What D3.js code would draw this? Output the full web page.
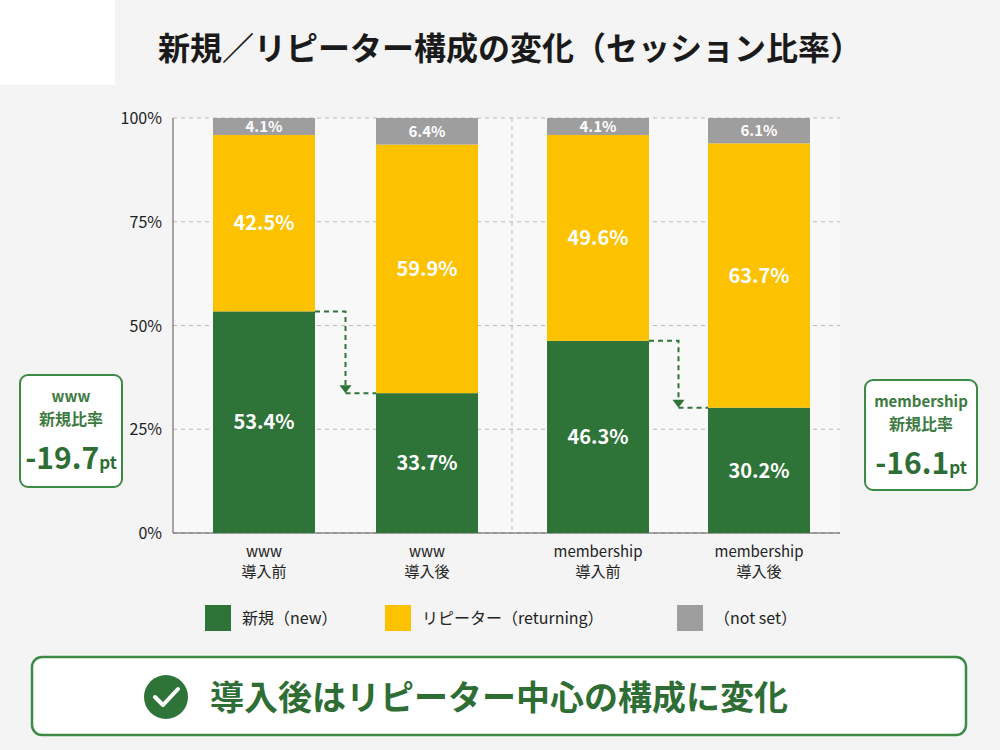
<!DOCTYPE html><html><head><meta charset="utf-8">
<script src="https://cdn.jsdelivr.net/npm/d3@7"></script>
<style>body{margin:0;background:#f4f4f4;font-family:"Noto Sans CJK JP","Noto Sans",sans-serif}</style></head><body>
<svg id="c" width="1000" height="750"></svg>
<script>
const categories=[["www","導入前"],["www","導入後"],["membership","導入前"],["membership","導入後"]];
const newVals=[53.4,33.7,46.3,30.2];
const retVals=[42.5,59.9,49.6,63.7];
const notSetVals=[4.1,6.4,4.1,6.1];
const yTicks=[0,25,50,75,100];
const seriesNames=["新規（new）","リピーター（returning）","（not set）"];
const colors=["#2e7438","#fcc200","#9e9e9e"];
const F='"Noto Sans CJK JP","Noto Sans",sans-serif';
const svg=d3.select("#c");
svg.append("rect").attr("width",115).attr("height",85).attr("fill","#fff");
svg.append("text").attr("x",510).attr("y",60).attr("text-anchor","middle").attr("font-size",32).attr("font-weight",700).attr("fill","#1a1a1a").attr("font-family",F).text("新規／リピーター構成の変化（セッション比率）");
const xp=i=>[213,376,547,708][i];const bw=102;
const y=d3.scaleLinear().domain([0,100]).range([533,118]);
svg.append("rect").attr("x",173).attr("y",118).attr("width",667).attr("height",415).attr("fill","#f8f8f8");
svg.selectAll(".g").data(yTicks).join("line").attr("x1",173).attr("x2",840).attr("y1",d=>y(d)).attr("y2",d=>y(d)).attr("stroke","#bbb").attr("stroke-dasharray","4,4");
svg.append("line").attr("x1",512).attr("x2",512).attr("y1",118).attr("y2",533).attr("stroke","#bbb").attr("stroke-dasharray","4,4");
svg.append("line").attr("x1",173).attr("x2",173).attr("y1",118).attr("y2",533).attr("stroke","#555");
svg.append("line").attr("x1",173).attr("x2",840).attr("y1",533).attr("y2",533).attr("stroke","#555");
svg.selectAll(".yt").data(yTicks).join("text").attr("x",162).attr("y",d=>y(d)+6).attr("text-anchor","end").attr("font-size",16).attr("font-family",F).attr("fill","#222").text(d=>d+"%");
const stack=[newVals,retVals,notSetVals];
categories.forEach((c,i)=>{let base=0;
 stack.forEach((s,k)=>{const v=s[i];
  svg.append("rect").attr("x",xp(i)).attr("width",bw).attr("y",y(base+v)).attr("height",y(base)-y(base+v)).attr("fill",colors[k]);
  const fs=k==2?15:20;
  svg.append("text").attr("x",xp(i)+bw/2).attr("y",(y(base)+y(base+v))/2+fs*0.36).attr("text-anchor","middle").attr("font-size",fs).attr("font-weight",700).attr("font-family",F).attr("fill","#fff").text(v.toFixed(1)+"%");
  base+=v;});
 c.forEach((t,j)=>svg.append("text").attr("x",xp(i)+bw/2).attr("y",557+j*20).attr("text-anchor","middle").attr("font-size",15).attr("font-family",F).attr("fill","#222").text(t));
});
[[0,1],[2,3]].forEach(([a,b])=>{const x0=xp(a)+bw,x1=xp(b),mx=x0+(x1-x0)*0.5;
 const y0=y(newVals[a]),y1=y(newVals[b]);
 svg.append("path").attr("d",`M${x0},${y0}H${mx}V${y1-6}`).attr("fill","none").attr("stroke","#2e7438").attr("stroke-width",2).attr("stroke-dasharray","5,4");
 svg.append("path").attr("d",`M${mx-6},${y1-8}L${mx+6},${y1-8}L${mx},${y1}Z`).attr("fill","#2e7438");
 svg.append("path").attr("d",`M${mx},${y1}H${x1}`).attr("stroke","#2e7438").attr("stroke-width",2).attr("stroke-dasharray","5,4");
});
function note(x0,y0,w,h,l1,val){const g=svg.append("g");
 g.append("rect").attr("x",x0).attr("y",y0).attr("width",w).attr("height",h).attr("rx",8).attr("fill","#fff").attr("stroke","#3d8a46").attr("stroke-width",2);
 g.append("text").attr("x",x0+w/2).attr("y",y0+27).attr("text-anchor","middle").attr("font-size",15).attr("font-weight",700).attr("fill","#3d7a3f").attr("font-family",F).text(l1);
 g.append("text").attr("x",x0+w/2).attr("y",y0+50).attr("text-anchor","middle").attr("font-size",16).attr("font-weight",700).attr("fill","#3d7a3f").attr("font-family",F).text("新規比率");
 const t=g.append("text").attr("x",x0+w/2).attr("y",y0+94).attr("text-anchor","middle").attr("font-weight",700).attr("fill","#2e6e35").attr("font-family",F);
 t.append("tspan").attr("font-size",30).text(val);t.append("tspan").attr("font-size",17).text("pt");}
note(20,375,102,112,"www","-19.7");
note(865,380,112,110,"membership","-16.1");
const lx=[205,385,677];
seriesNames.forEach((n,k)=>{svg.append("rect").attr("x",lx[k]).attr("y",605).attr("width",26).attr("height",26).attr("fill",colors[k]);
 svg.append("text").attr("x",lx[k]+37).attr("y",624).attr("font-size",16).attr("font-family",F).attr("fill","#222").text(n);});
svg.append("rect").attr("x",32).attr("y",657).attr("width",934).attr("height",78).attr("rx",10).attr("fill","#fff").attr("stroke","#3d8a46").attr("stroke-width",2.5);
svg.append("circle").attr("cx",166).attr("cy",697).attr("r",22).attr("fill","#2e7438");
svg.append("path").attr("d","M155,697L163,705L178,689").attr("fill","none").attr("stroke","#fff").attr("stroke-width",4).attr("stroke-linecap","round").attr("stroke-linejoin","round");
svg.append("text").attr("x",210).attr("y",710).attr("font-size",34).attr("font-weight",700).attr("fill","#2e6e35").attr("font-family",F).text("導入後はリピーター中心の構成に変化");
</script></body></html>
